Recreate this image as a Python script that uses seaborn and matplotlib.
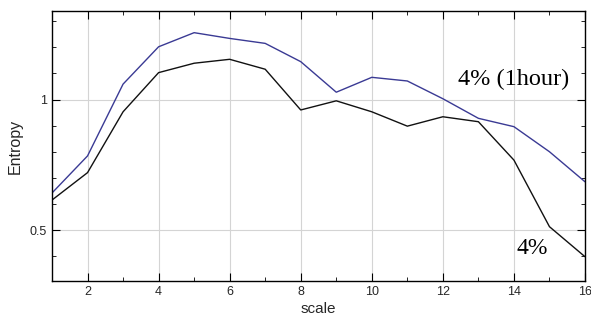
import matplotlib
matplotlib.use("Agg")
import matplotlib.pyplot as plt
import seaborn as sns
import pandas as pd
from matplotlib.ticker import MultipleLocator

scale = list(range(1, 17))
hour_vals = [0.642, 0.784, 1.059, 1.202, 1.256, 1.234, 1.215, 1.145,
             1.028, 1.085, 1.071, 1.003, 0.928, 0.896, 0.800, 0.685]
base_vals = [0.615, 0.720, 0.953, 1.103, 1.139, 1.154, 1.116, 0.960,
             0.995, 0.953, 0.898, 0.934, 0.915, 0.768, 0.513, 0.398]
series_names = ["4% (1hour)", "4%"]
xticks = [2, 4, 6, 8, 10, 12, 14, 16]
yticks = [0.5, 1]

df = pd.DataFrame({
    "scale": scale * 2,
    "Entropy": hour_vals + base_vals,
    "series": [series_names[0]] * 16 + [series_names[1]] * 16,
})

sns.set_theme(style="white")
plt.rcParams['font.family'] = ['Liberation Sans', 'DejaVu Sans']

fig = plt.figure(figsize=(5.91, 3.32), dpi=100)
ax = fig.add_axes([52/591, 1-281/332, (585-52)/591, (281-11)/332])

sns.lineplot(data=df, x="scale", y="Entropy", hue="series",
             palette={series_names[0]: "#3a3a94", series_names[1]: "#111111"},
             linewidth=1.0, legend=False, ax=ax)

ax.set_xlim(1, 16)
ax.set_ylim(0.305, 1.339)
ax.set_xticks(xticks)
ax.set_yticks(yticks)
ax.set_yticklabels(["0.5", "1"])
ax.xaxis.set_minor_locator(MultipleLocator(1))
ax.yaxis.set_minor_locator(MultipleLocator(0.1))
ax.grid(True, which="major", color="#d4d4d4", linewidth=0.8)
ax.tick_params(which="both", direction="in", top=True, right=True,
               bottom=True, left=True, labelsize=9, color="black")
ax.tick_params(which="major", length=6, width=0.8)
ax.tick_params(which="minor", length=3, width=0.6)
for s in ax.spines.values():
    s.set_color("black")
    s.set_linewidth(1.0)

ax.set_xlabel("scale", fontsize=11, labelpad=3)
ax.set_ylabel("Entropy", fontsize=11.5, labelpad=5)

ax.text(12.42, 1.075, series_names[0], family="Liberation Serif", fontsize=17.5,
        va="center", ha="left", color="black")
ax.text(14.08, 0.431, series_names[1], family="Liberation Serif", fontsize=17,
        va="center", ha="left", color="black")

fig.savefig("out.png", dpi=100)
